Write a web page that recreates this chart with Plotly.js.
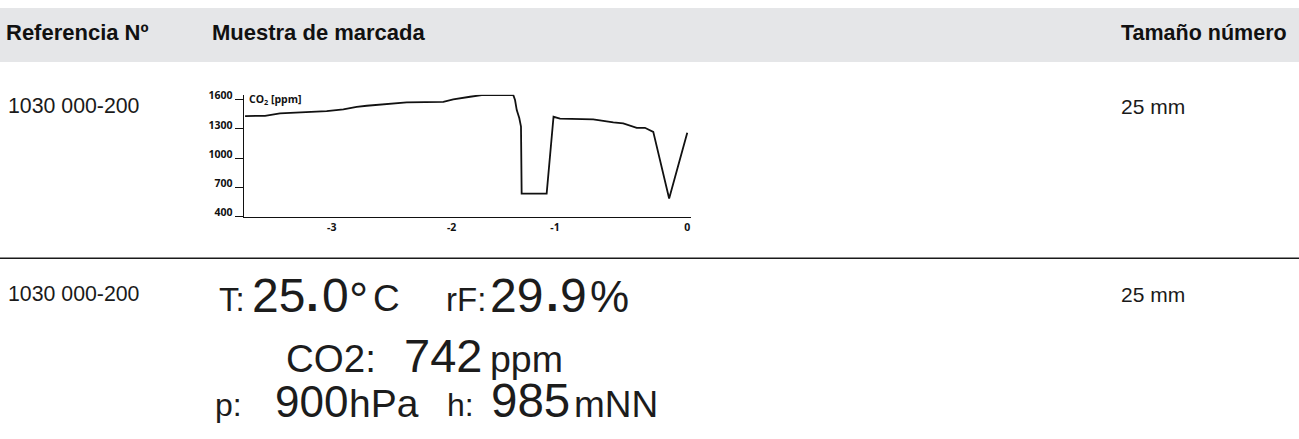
<!DOCTYPE html>
<html>
<head>
<meta charset="utf-8">
<script src="https://cdn.plot.ly/plotly-3.0.1.min.js"></script>
<style>
html,body{margin:0;padding:0;background:#fff;}
#chart{width:1299px;height:439px;}
</style>
</head>
<body>
<div id="chart"></div>
<script>
// ---------- data ----------
var headerLabels = ['Referencia Nº', 'Muestra de marcada', 'Tamaño número'];
var rowReferences = ['1030 000-200', '1030 000-200'];
var rowSizes = ['25 mm', '25 mm'];

// CO2 history (x in the chart's own time units, y in ppm)
var co2Time = [-3.343, -3.192, -3.079, -2.726, -2.600, -2.499, -2.423, -2.247, -2.121, -1.844,
               -1.769, -1.642, -1.554, -1.315, -1.302, -1.289, -1.270, -1.257, -1.252, -1.063,
               -1.011, -0.962, -0.711, -0.559, -0.484, -0.382, -0.320, -0.257, -0.137, 0.000];
var co2Ppm  = [1431, 1434, 1459, 1482, 1500, 1526, 1537, 1554, 1571, 1577,
               1602, 1629, 1646, 1646, 1595, 1492, 1411, 1324, 638, 638,
               1424, 1405, 1397, 1367, 1356, 1311, 1311, 1270, 588, 1260];
var xTickVals = [-2.688, -1.781, -1, 0];
var xTickText = ['-3', '-2', '-1', '0'];
var yTickVals = [400, 700, 1000, 1300, 1600];
var yTitleText = 'CO<sub>2</sub> [ppm]';

// display readings
var lcdLabels = ['T:', 'rF:', 'CO2:', 'p:', 'h:'];
var lcdValues = ['25.0', '29.9', '742', '900', '985'];
var lcdUnits  = ['°C', '%', 'ppm', 'hPa', 'mNN'];

// ---------- layout helpers ----------
var W = 1299, H = 439;
var SANS = 'Liberation Sans, Arial, sans-serif';
function txt(text, inkLeft, baseline, size, color, weight) {
  return {
    xref: 'paper', yref: 'paper', showarrow: false,
    x: (inkLeft - 2 - 0.06 * size) / W,
    y: 1 - (baseline + 2 + 0.212 * size) / H,
    xanchor: 'left', yanchor: 'bottom', align: 'left',
    text: text,
    font: {family: SANS, size: size, color: color || '#1a1a1a', weight: weight || 'normal'}
  };
}

var ann = [];
// header
ann.push(txt(headerLabels[0], 7.5, 40, 22, '#111', 'bold'));
ann.push(txt(headerLabels[1], 213, 40, 22, '#111', 'bold'));
ann.push(txt(headerLabels[2], 1122, 40, 21.5, '#111', 'bold'));
// rows
ann.push(txt(rowReferences[0], 9, 113.3, 21.3, '#1a1a1a'));
ann.push(txt(rowSizes[0], 1122, 113.3, 21, '#1a1a1a'));
ann.push(txt(rowReferences[1], 9, 301.5, 21.3, '#1a1a1a'));
ann.push(txt(rowSizes[1], 1122, 301.5, 21, '#1a1a1a'));

// LCD sample
var LCD = '#1c1c1c';
function splitDec(v) { return v.split('.'); }
// line 1
var b1 = 311.5;
ann.push(txt(lcdLabels[0], 221, b1, 33, LCD));
var t = splitDec(lcdValues[0]);
ann.push(txt(t[0], 255, b1, 48, LCD));
ann.push(txt('.', 309, b1, 46, LCD, 'bold'));
ann.push(txt(t[1], 325, b1, 48, LCD));
ann.push(txt(lcdUnits[0].charAt(0), 352, b1 + 4.5, 48, LCD));
ann.push(txt(lcdUnits[0].charAt(1), 375, b1, 37, LCD));
ann.push(txt(lcdLabels[1], 448, b1, 33, LCD));
var r = splitDec(lcdValues[1]);
ann.push(txt(r[0], 493, b1, 48, LCD));
ann.push(txt('.', 549, b1, 46, LCD, 'bold'));
ann.push(txt(r[1], 563, b1, 48, LCD));
ann.push(txt(lcdUnits[1], 593, b1, 44, LCD));
// line 2
var b2 = 371.7;
ann.push(txt(lcdLabels[2], 288, b2, 38.5, LCD));
ann.push(txt(lcdValues[2], 407, b2, 47, LCD));
ann.push(txt(lcdUnits[2], 492, b2, 37.5, LCD));
// line 3
var b3 = 416.7;
ann.push(txt(lcdLabels[3], 217, b3, 32, LCD));
ann.push(txt(lcdValues[3], 278, b3, 44, LCD));
ann.push(txt(lcdUnits[3], 351, b3, 39, LCD));
ann.push(txt(lcdLabels[4], 449, b3, 32, LCD));
ann.push(txt(lcdValues[4], 494, b3, 47.5, LCD));
ann.push(txt(lcdUnits[4], 576, b3, 37, LCD));

// chart axis title
ann.push({
  xref: 'paper', yref: 'paper', showarrow: false,
  x: 247 / W, y: 1 - 99 / H, xanchor: 'left', yanchor: 'middle',
  text: yTitleText,
  font: {family: 'Open Sans, sans-serif', size: 10.5, color: '#111', weight: 'bold'}
});

var trace = {
  type: 'scatter', mode: 'lines',
  x: co2Time, y: co2Ppm,
  line: {color: '#111', width: 1.8},
  hoverinfo: 'skip'
};

var tickFont = {family: 'Open Sans, sans-serif', size: 10.5, color: '#111', weight: 'bold'};

var layout = {
  width: W, height: H,
  margin: {l: 0, r: 0, t: 0, b: 0, pad: 0},
  paper_bgcolor: '#ffffff',
  plot_bgcolor: 'rgba(0,0,0,0)',
  showlegend: false,
  font: {family: SANS},
  xaxis: {
    domain: [244 / W, 690.7 / W],
    range: [-3.351, 0.026],
    showline: true, linecolor: '#111', linewidth: 1.4,
    showgrid: false, zeroline: false,
    ticks: '', tickvals: xTickVals, ticktext: xTickText,
    tickfont: tickFont, ticklabelstandoff: 0,
    fixedrange: true
  },
  yaxis: {
    domain: [1 - 216.8 / H, 1 - 94.7 / H],
    range: [400, 1650],
    showline: true, linecolor: '#111', linewidth: 1.4,
    showgrid: false, zeroline: false,
    ticks: 'outside', ticklen: 8, tickwidth: 1, tickcolor: '#111',
    tickvals: yTickVals,
    tickfont: tickFont, ticklabelstandoff: 0, ticklabelshift: -4,
    fixedrange: true
  },
  shapes: [
    {type: 'rect', xref: 'paper', yref: 'paper', layer: 'below',
     x0: 0, x1: 1, y0: 1 - 62 / H, y1: 1 - 8 / H,
     fillcolor: '#e5e6e8', line: {width: 0}},
    {type: 'line', xref: 'paper', yref: 'paper',
     x0: 0, x1: 1, y0: 1 - 258.3 / H, y1: 1 - 258.3 / H,
     line: {color: '#1a1a1a', width: 1.5}}
  ],
  annotations: ann
};

Plotly.newPlot('chart', [trace], layout, {displayModeBar: false, staticPlot: true});
</script>
</body>
</html>
